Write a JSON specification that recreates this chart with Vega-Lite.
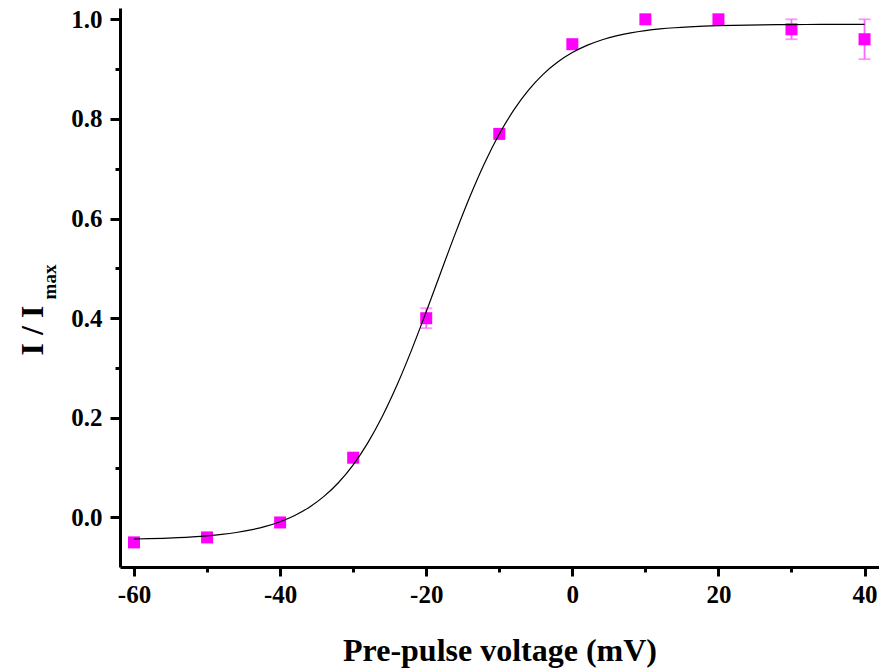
{
  "$schema": "https://vega.github.io/schema/vega-lite/v6.json",
  "width": 759,
  "height": 559,
  "autosize": {"type": "none"},
  "padding": {"left": 120, "top": 8, "right": 0, "bottom": 101},
  "background": "white",
  "config": {
    "view": {"stroke": null},
    "axis": {
      "grid": false,
      "domainColor": "black",
      "domainWidth": 3,
      "tickColor": "black",
      "tickWidth": 3,
      "labelFont": "Liberation Serif",
      "labelFontWeight": "bold",
      "labelFontSize": 25,
      "labelColor": "black",
      "titleFont": "Liberation Serif",
      "titleFontWeight": "bold",
      "titleColor": "black"
    }
  },
  "datasets": {
    "curve": [
      {"v": -60, "r": -0.04326}, {"v": -58, "r": -0.04263}, {"v": -56, "r": -0.04178},
      {"v": -54, "r": -0.04062}, {"v": -52, "r": -0.03906}, {"v": -50, "r": -0.03693},
      {"v": -48, "r": -0.03405}, {"v": -46, "r": -0.03017}, {"v": -44, "r": -0.02493},
      {"v": -42, "r": -0.01789}, {"v": -40, "r": -0.00845}, {"v": -38, "r": 0.00409},
      {"v": -36, "r": 0.02065}, {"v": -34, "r": 0.04231}, {"v": -32, "r": 0.07026},
      {"v": -30, "r": 0.10574}, {"v": -28, "r": 0.14982}, {"v": -26, "r": 0.2032},
      {"v": -24, "r": 0.26575}, {"v": -22, "r": 0.33643}, {"v": -20, "r": 0.41305},
      {"v": -18, "r": 0.4924}, {"v": -16, "r": 0.57083}, {"v": -14, "r": 0.64481},
      {"v": -12, "r": 0.71165}, {"v": -10, "r": 0.76967}, {"v": -8, "r": 0.81836},
      {"v": -6, "r": 0.85802}, {"v": -4, "r": 0.88958}, {"v": -2, "r": 0.91423},
      {"v": 0, "r": 0.93319}, {"v": 2, "r": 0.94763}, {"v": 4, "r": 0.95851},
      {"v": 6, "r": 0.96667}, {"v": 8, "r": 0.97274}, {"v": 10, "r": 0.97725},
      {"v": 12, "r": 0.98061}, {"v": 14, "r": 0.98307}, {"v": 16, "r": 0.9849},
      {"v": 18, "r": 0.98625}, {"v": 20, "r": 0.98724}, {"v": 22, "r": 0.98797},
      {"v": 24, "r": 0.9885}, {"v": 26, "r": 0.9889}, {"v": 28, "r": 0.98919},
      {"v": 30, "r": 0.9894}, {"v": 32, "r": 0.98956}, {"v": 34, "r": 0.98968},
      {"v": 36, "r": 0.98976}, {"v": 38, "r": 0.98983}, {"v": 40, "r": 0.98987}
    ],
    "measured": [
      {"v": -60, "r": -0.05}, {"v": -50, "r": -0.04}, {"v": -40, "r": -0.01},
      {"v": -30, "r": 0.12}, {"v": -20, "r": 0.40}, {"v": -10, "r": 0.77},
      {"v": 0, "r": 0.95}, {"v": 10, "r": 1.0}, {"v": 20, "r": 1.0},
      {"v": 30, "r": 0.98}, {"v": 40, "r": 0.96}
    ],
    "spread": [
      {"v": -20, "lo": 0.38, "hi": 0.42},
      {"v": 30, "lo": 0.96, "hi": 1.0},
      {"v": 40, "lo": 0.92, "hi": 1.0}
    ]
  },
  "resolve": {"axis": {"y": "independent"}},
  "layer": [
    {
      "data": {"name": "spread"},
      "mark": {"type": "rule", "color": "#ff66ff", "strokeWidth": 1.8},
      "encoding": {
        "x": {
          "field": "v", "type": "quantitative",
          "scale": {"domain": [-61.92, 41.98], "nice": false, "zero": false},
          "axis": {
            "values": [-60, -50, -40, -30, -20, -10, 0, 10, 20, 30, 40],
            "labelExpr": "datum.value % 20 === 0 ? '' + datum.value : ''",
            "tickSize": {"condition": {"test": "datum.value % 20 === 0", "value": 9}, "value": 5},
            "labelPadding": 6,
            "title": "Pre-pulse voltage (mV)",
            "titleFontSize": 32,
            "titleBaseline": "alphabetic",
            "titleY": 93
          }
        },
        "y": {
          "field": "lo", "type": "quantitative",
          "scale": {"domain": [-0.0994, 1.0227], "nice": false, "zero": false},
          "axis": {
            "orient": "left",
            "domain": false,
            "ticks": false,
            "labels": false,
            "title": "max",
            "titleFontSize": 19,
            "titleAngle": -90,
            "titleAlign": "center",
            "titleBaseline": "alphabetic",
            "titleX": -65,
            "titleY": 273.5
          }
        },
        "y2": {"field": "hi"}
      }
    },
    {
      "data": {"name": "spread"},
      "mark": {"type": "tick", "orient": "horizontal", "color": "#ff66ff", "thickness": 1.8, "size": 12},
      "encoding": {
        "x": {"field": "v", "type": "quantitative"},
        "y": {"field": "lo", "type": "quantitative", "axis": null}
      }
    },
    {
      "data": {"name": "spread"},
      "mark": {"type": "tick", "orient": "horizontal", "color": "#ff66ff", "thickness": 1.8, "size": 12},
      "encoding": {
        "x": {"field": "v", "type": "quantitative"},
        "y": {"field": "hi", "type": "quantitative", "axis": null}
      }
    },
    {
      "data": {"name": "measured"},
      "mark": {"type": "point", "shape": "square", "filled": true, "size": 144, "color": "#ff00ff", "opacity": 1},
      "encoding": {
        "x": {"field": "v", "type": "quantitative"},
        "y": {"field": "r", "type": "quantitative", "axis": null}
      }
    },
    {
      "data": {"name": "curve"},
      "mark": {"type": "line", "color": "black", "strokeWidth": 1.2, "interpolate": "monotone"},
      "encoding": {
        "x": {"field": "v", "type": "quantitative"},
        "y": {
          "field": "r", "type": "quantitative",
          "axis": {
            "orient": "left",
            "values": [0, 0.1, 0.2, 0.3, 0.4, 0.5, 0.6, 0.7, 0.8, 0.9, 1.0],
            "labelExpr": "round(datum.value * 10) % 2 === 0 ? format(datum.value, '.1f') : ''",
            "tickSize": {"condition": {"test": "round(datum.value * 10) % 2 === 0", "value": 10}, "value": 5},
            "labelPadding": 8,
            "title": "I / I",
            "titleFontSize": 32,
            "titleAngle": -90,
            "titleAlign": "center",
            "titleBaseline": "alphabetic",
            "titleX": -78,
            "titleY": 322
          }
        }
      }
    }
  ]
}
